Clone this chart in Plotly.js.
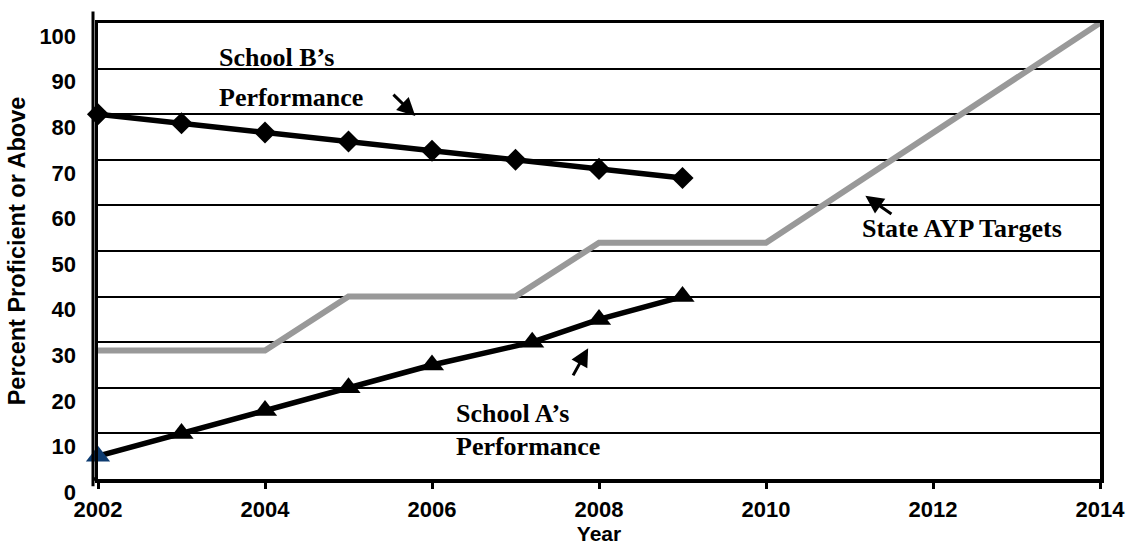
<!DOCTYPE html>
<html>
<head>
<meta charset="utf-8">
<script src="https://cdn.plot.ly/plotly-3.0.1.min.js"></script>
<style>html,body{margin:0;padding:0;background:#fff;}#chart{width:1135px;height:556px;}</style>
</head>
<body>
<div id="chart"></div>
<script>
// ---- data ----
const schoolBYears = [2002, 2003, 2004, 2005, 2006, 2007, 2008, 2009];
const schoolB = [80, 78, 76, 74, 72, 70, 68, 66];
const schoolAYears = [2002, 2003, 2004, 2005, 2006, 2007.2, 2008, 2009];
const schoolA = [5, 10, 15, 20, 25, 30, 35, 40];
const aypYears = [2002, 2004, 2005, 2007, 2008, 2010, 2014];
const aypTargets = [28.2, 28.2, 40, 40, 51.8, 51.8, 100];
const xTickVals = [2002, 2004, 2006, 2008, 2010, 2012, 2014];
const yTickVals = [0, 10, 20, 30, 40, 50, 60, 70, 80, 90, 100];
const labelSchoolB = ["School B’s", "Performance"];
const labelSchoolA = ["School A’s", "Performance"];
const labelAYP = "State AYP Targets";

const serif = {family: "Liberation Serif, Times New Roman, serif", size: 26, color: "#000"};
const sans = {family: "Liberation Sans, Arial, sans-serif", size: 22, color: "#000", weight: "bold"};

const traces = [
  {
    x: aypYears, y: aypTargets, type: "scatter", mode: "lines",
    line: {color: "#999999", width: 6}, cliponaxis: false, hoverinfo: "skip"
  },
  {
    x: schoolBYears, y: schoolB, type: "scatter", mode: "lines+markers",
    line: {color: "#000", width: 5.5},
    marker: {symbol: "diamond", size: 17, color: "#000"},
    cliponaxis: false
  },
  {
    x: schoolAYears, y: schoolA, type: "scatter", mode: "lines+markers",
    line: {color: "#000", width: 5.5},
    marker: {symbol: "triangle-up", size: 21,
      color: schoolA.map((v, i) => i === 0 ? "#0d3b70" : "#000")},
    cliponaxis: false
  }
];

const annotations = [
  {x: 2003.42, y: 92.5, text: labelSchoolB[0]},
  {x: 2003.42, y: 83.6, text: labelSchoolB[1]},
  {x: 2006.26, y: 14.3, text: labelSchoolA[0]},
  {x: 2006.26, y: 7.2, text: labelSchoolA[1]},
  {x: 2011.13, y: 55.0, text: labelAYP}
].map(a => Object.assign({xref: "x", yref: "y", xanchor: "left", yanchor: "middle",
  showarrow: false, font: Object.assign({}, serif)}, a,
  {text: "<b>" + a.text + "</b>"}));

const arrows = [
  {x: 2005.80, y: 79.6, ax: 2005.52, ay: 84.6},
  {x: 2007.87, y: 28.7, ax: 2007.68, ay: 22.4},
  {x: 2011.19, y: 62.1, ax: 2011.52, ay: 57.9}
].map(a => Object.assign({xref: "x", yref: "y", axref: "x", ayref: "y", text: "",
  showarrow: true, arrowhead: 2, arrowsize: 1.2, arrowwidth: 3, arrowcolor: "#000"}, a));

const layout = {
  width: 1135, height: 556,
  margin: {l: 98, r: 35, t: 23, b: 77},
  paper_bgcolor: "#fff", plot_bgcolor: "#fff",
  showlegend: false,
  xaxis: {
    range: [2002, 2014], tickvals: xTickVals, ticktext: xTickVals.map(String),
    showgrid: false, zeroline: false,
    showline: true, mirror: true, linecolor: "#000", linewidth: 3.5,
    ticks: "outside", ticklen: 6, tickwidth: 3, tickcolor: "#000",
    ticklabelstandoff: 2,
    tickfont: Object.assign({}, sans),
    title: {text: "Year", font: Object.assign({}, sans, {size: 21}), standoff: 0}
  },
  yaxis: {
    range: [0, 100], tickvals: yTickVals, ticktext: yTickVals.map(String),
    showgrid: true, gridcolor: "#000", gridwidth: 2, zeroline: false,
    showline: true, mirror: true, linecolor: "#000", linewidth: 3.5,
    ticks: "", ticklabelshift: 13, ticklabelstandoff: 14,
    tickfont: Object.assign({}, sans),
    title: {text: "Percent Proficient or Above", font: Object.assign({}, sans, {size: 23.5}), standoff: 8}
  },
  shapes: [
    {type: "line", xref: "paper", yref: "paper", xsizemode: "pixel", xanchor: 0,
     x0: -5, x1: -5, y0: -0.016, y1: 1.025, line: {color: "#000", width: 3}},
    {type: "line", xref: "paper", yref: "paper", xsizemode: "pixel", xanchor: 0,
     x0: -6, x1: 0, y0: 0, y1: 0, line: {color: "#000", width: 3.5}}
  ],
  annotations: annotations.concat(arrows)
};

Plotly.newPlot("chart", traces, layout, {displayModeBar: false, staticPlot: true});
</script>
</body>
</html>
